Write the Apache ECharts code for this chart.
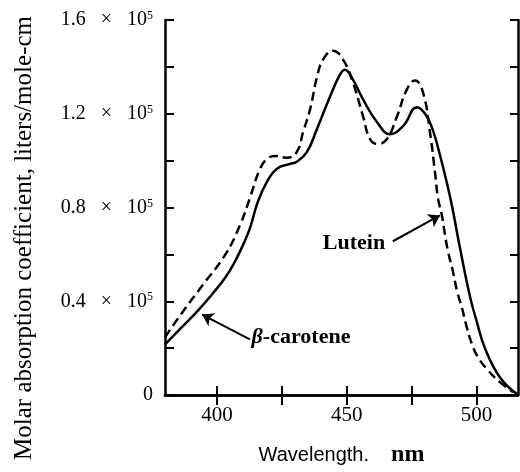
<!DOCTYPE html>
<html><head><meta charset="utf-8">
<script src="https://cdn.jsdelivr.net/npm/echarts@6/dist/echarts.min.js"></script>
<style>html,body{margin:0;padding:0;background:#fff}#c{width:520px;height:472px}</style>
</head><body><div id="c"></div>
<script>
// β-carotene (solid)
const betaX = [380, 386, 392.7, 398, 403.1, 406.5, 410.0, 412.7, 415.8, 419.3, 423.1, 428.2, 430.8, 434.7, 438.5, 443.6, 447.4, 449.3, 452.4, 456.3, 461.7, 466.7, 471.7, 477.1, 480.5, 483.2, 485.9, 488.6, 490.6, 493.6, 497.5, 500.2, 503.3, 509.0, 515.6];
const betaY = [21600, 28400, 36000, 42800, 49900, 56000, 63900, 71100, 82500, 91000, 96500, 98600, 99500, 103700, 113400, 127400, 136700, 138800, 134600, 126100, 116400, 111300, 114700, 122800, 119500, 113000, 102500, 90500, 80500, 63000, 42000, 31000, 19900, 7600, 400];
// Lutein (dashed)
const luteinX = [380, 385.8, 394.3, 403.1, 408.9, 412.7, 416.6, 419.3, 422.4, 427.0, 430.8, 433.2, 435.9, 438.6, 440.9, 444.7, 448.6, 452.4, 456.3, 459.0, 462.0, 465.5, 469.4, 473.2, 476.3, 479.4, 482.1, 484.0, 485.2, 486.7, 487.9, 489.0, 490.9, 492.5, 494.4, 496.3, 498.3, 500.6, 504.4, 509.0, 514.1];
const luteinY = [24600, 33900, 46600, 59700, 72500, 84000, 96500, 100700, 102000, 101200, 103700, 112200, 121900, 135900, 143100, 146900, 143100, 133300, 118900, 109200, 107100, 109200, 118900, 130400, 134200, 129100, 112000, 95200, 83800, 76600, 68200, 61400, 52900, 44400, 37200, 28800, 21600, 16100, 10600, 5500, 1300];

const xTickValues = [400, 425, 450, 475, 500];
const xLabelValues = [400, 450, 500];
const yLabelValues = [0, 40000, 80000, 120000, 160000];
const yTickLabels = ['0', '0.4', '0.8', '1.2', '1.6'];

// annotation anchors in data space
const luteinArrow = [[467.8, 65600], [485.9, 76600]];
const luteinText = [452.8, 64800];
const betaArrow = [[412.7, 23700], [394.3, 34300]];
const betaText = [432.4, 24600];

const serif = '"Liberation Serif", "DejaVu Serif", serif';
const chart = echarts.init(document.getElementById('c'));
const axisLineStyle = {color: '#000', width: 2.5};
const tickStyle = {color: '#000', width: 2};

chart.setOption({
  animation: false,
  grid: {left: 165, top: 20, width: 353, height: 378},
  xAxis: [{
    type: 'value', min: 380, max: 516, position: 'bottom',
    axisLine: {lineStyle: axisLineStyle},
    axisTick: {inside: true, length: 9, customValues: xTickValues, lineStyle: tickStyle},
    axisLabel: {customValues: xLabelValues, margin: 10, fontSize: 21, fontFamily: serif, color: '#000'},
    splitLine: {show: false},
    name: '{a|Wavelength.}{g|}{b|nm}', nameLocation: 'middle', nameGap: 48,
    nameTextStyle: {rich: {
      a: {fontFamily: '"Liberation Sans", Arial, sans-serif', fontSize: 20, color: '#000'},
      g: {width: 22},
      b: {fontFamily: serif, fontSize: 24, fontWeight: 'bold', color: '#000'}
    }}
  }, {
    type: 'value', min: 380, max: 516, position: 'top',
    axisLine: {lineStyle: axisLineStyle},
    axisTick: {inside: true, length: 10, customValues: xTickValues, lineStyle: tickStyle},
    axisLabel: {show: false}, splitLine: {show: false}
  }],
  yAxis: [{
    type: 'value', min: 0, max: 160000, interval: 20000, position: 'left',
    axisLine: {show: true, lineStyle: axisLineStyle},
    axisTick: {show: true, inside: true, length: 9, lineStyle: tickStyle},
    axisLabel: {
      margin: 12, color: '#000',
      formatter: function (v) {
        const i = yLabelValues.indexOf(v);
        if (i < 0) return '';
        if (v === 0) return '{z|0}';
        return '{m|' + yTickLabels[i] + '   ×   10}{s|5}';
      },
      rich: {
        z: {fontFamily: serif, fontSize: 20, color: '#000'},
        m: {fontFamily: serif, fontSize: 20, color: '#000'},
        s: {fontFamily: serif, fontSize: 12, color: '#000', verticalAlign: 'top'}
      }
    },
    splitLine: {show: false}
  }, {
    type: 'value', min: 0, max: 160000, interval: 20000, position: 'right',
    axisLine: {show: true, lineStyle: axisLineStyle},
    axisTick: {show: true, inside: true, length: 8, lineStyle: tickStyle},
    axisLabel: {show: false}, splitLine: {show: false}
  }],
  graphic: [{
    type: 'text', x: 24, y: 238, rotation: Math.PI / 2,
    style: {
      text: 'Molar absorption coefficient, liters/mole-cm',
      font: '25px ' + serif, fill: '#000', align: 'center', verticalAlign: 'middle'
    }
  }],
  series: [{
    type: 'line', name: 'β-carotene',
    data: betaX.map((x, i) => [x, betaY[i]]),
    smooth: 0.45, showSymbol: false,
    lineStyle: {color: '#000', width: 2.5, type: 'solid'},
    markLine: {
      silent: true, symbol: ['none', 'arrow'], symbolSize: 11,
      lineStyle: {color: '#000', width: 2, type: 'solid'}, label: {show: false},
      data: [[{coord: betaArrow[0]}, {coord: betaArrow[1]}]]
    },
    markPoint: {
      silent: true, symbol: 'circle', symbolSize: 1, itemStyle: {color: 'transparent'},
      data: [{coord: betaText, label: {
        show: true, position: 'inside',
        formatter: '{i|β}{n|-carotene}',
        rich: {
          i: {fontFamily: serif, fontSize: 22, fontStyle: 'italic', fontWeight: 'bold', color: '#000'},
          n: {fontFamily: serif, fontSize: 22, fontWeight: 'bold', color: '#000'}
        }
      }}]
    }
  }, {
    type: 'line', name: 'Lutein',
    data: luteinX.map((x, i) => [x, luteinY[i]]),
    smooth: 0.45, showSymbol: false,
    lineStyle: {color: '#000', width: 2.5, type: [9, 5]},
    markLine: {
      silent: true, symbol: ['none', 'arrow'], symbolSize: 11,
      lineStyle: {color: '#000', width: 2, type: 'solid'}, label: {show: false},
      data: [[{coord: luteinArrow[0]}, {coord: luteinArrow[1]}]]
    },
    markPoint: {
      silent: true, symbol: 'circle', symbolSize: 1, itemStyle: {color: 'transparent'},
      data: [{coord: luteinText, label: {
        show: true, position: 'inside', formatter: 'Lutein',
        fontFamily: serif, fontSize: 22, fontWeight: 'bold', color: '#000'
      }}]
    }
  }]
});
</script></body></html>
